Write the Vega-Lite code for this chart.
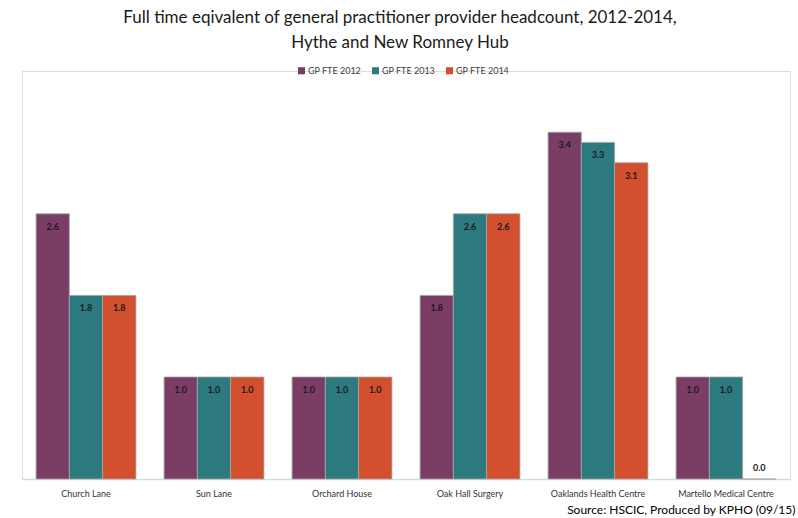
{
  "$schema": "https://vega.github.io/schema/vega-lite/v6.json",
  "width": 768,
  "height": 408,
  "autosize": {"type": "none"},
  "padding": {"left": 22, "top": 71, "right": 8, "bottom": 39},
  "background": "white",
  "title": {
    "text": ["Full time eqivalent of general practitioner provider headcount, 2012-2014,", "Hythe and New Romney Hub"],
    "font": "Lato",
    "fontSize": 17,
    "fontWeight": "normal",
    "color": "#1a1a1a",
    "anchor": "middle",
    "dx": -6,
    "offset": 14,
    "lineHeight": 25
  },
  "data": {
    "values": [
      {"practice": "Church Lane", "series": "GP FTE 2012", "fte": 2.6},
      {"practice": "Church Lane", "series": "GP FTE 2013", "fte": 1.8},
      {"practice": "Church Lane", "series": "GP FTE 2014", "fte": 1.8},
      {"practice": "Sun Lane", "series": "GP FTE 2012", "fte": 1.0},
      {"practice": "Sun Lane", "series": "GP FTE 2013", "fte": 1.0},
      {"practice": "Sun Lane", "series": "GP FTE 2014", "fte": 1.0},
      {"practice": "Orchard House", "series": "GP FTE 2012", "fte": 1.0},
      {"practice": "Orchard House", "series": "GP FTE 2013", "fte": 1.0},
      {"practice": "Orchard House", "series": "GP FTE 2014", "fte": 1.0},
      {"practice": "Oak Hall Surgery", "series": "GP FTE 2012", "fte": 1.8},
      {"practice": "Oak Hall Surgery", "series": "GP FTE 2013", "fte": 2.6},
      {"practice": "Oak Hall Surgery", "series": "GP FTE 2014", "fte": 2.6},
      {"practice": "Oaklands Health Centre", "series": "GP FTE 2012", "fte": 3.4},
      {"practice": "Oaklands Health Centre", "series": "GP FTE 2013", "fte": 3.3},
      {"practice": "Oaklands Health Centre", "series": "GP FTE 2014", "fte": 3.1},
      {"practice": "Martello Medical Centre", "series": "GP FTE 2012", "fte": 1.0},
      {"practice": "Martello Medical Centre", "series": "GP FTE 2013", "fte": 1.0},
      {"practice": "Martello Medical Centre", "series": "GP FTE 2014", "fte": 0.0}
    ]
  },
  "encoding": {
    "x": {
      "field": "practice",
      "type": "nominal",
      "sort": null,
      "scale": {"paddingInner": 0.22, "paddingOuter": 0.11},
      "axis": {
        "title": "Source: HSCIC, Produced by KPHO (09/15)",
        "titleAnchor": "end",
        "titleFont": "Lato",
        "titleFontSize": 12,
        "titleFontWeight": "normal",
        "titleColor": "#000000",
        "titlePadding": 6,
        "titleX": 773,
        "labelAngle": 0,
        "labelFont": "Lato",
        "labelFontSize": 9,
        "labelColor": "#333333",
        "labelPadding": 10,
        "ticks": false,
        "domainColor": "#d9d9d9",
        "domainWidth": 1.5
      }
    },
    "xOffset": {
      "field": "series",
      "type": "nominal",
      "scale": {"paddingInner": 0, "paddingOuter": 0}
    },
    "y": {
      "field": "fte",
      "type": "quantitative",
      "scale": {"domain": [0, 4], "nice": false},
      "axis": null
    }
  },
  "layer": [
    {
      "mark": {"type": "bar", "stroke": "#a6a6a6", "strokeWidth": 0.8},
      "encoding": {
        "color": {
          "field": "series",
          "type": "nominal",
          "scale": {
            "domain": ["GP FTE 2012", "GP FTE 2013", "GP FTE 2014"],
            "range": ["#7a3e66", "#2d7b7e", "#d3502e"]
          },
          "legend": {
            "title": null,
            "orient": "none",
            "legendX": 275,
            "legendY": -5,
            "direction": "horizontal",
            "symbolType": "square",
            "symbolSize": 50,
            "symbolStrokeWidth": 0,
            "labelFont": "Lato",
            "labelFontSize": 9,
            "labelColor": "#404040",
            "labelOffset": 2,
            "columnPadding": 9,
            "padding": 0
          }
        }
      }
    },
    {
      "transform": [{"filter": "datum.fte > 0"}],
      "mark": {"type": "text", "font": "Lato", "fontSize": 9, "fontWeight": "bold", "color": "#1a1a1a", "baseline": "middle", "dy": 13},
      "encoding": {"text": {"field": "fte", "type": "quantitative", "format": ".1f"}}
    },
    {
      "transform": [{"filter": "datum.fte == 0"}],
      "mark": {"type": "text", "font": "Lato", "fontSize": 9, "fontWeight": "bold", "color": "#1a1a1a", "baseline": "middle", "dy": -11},
      "encoding": {"text": {"field": "fte", "type": "quantitative", "format": ".1f"}}
    }
  ]
}
